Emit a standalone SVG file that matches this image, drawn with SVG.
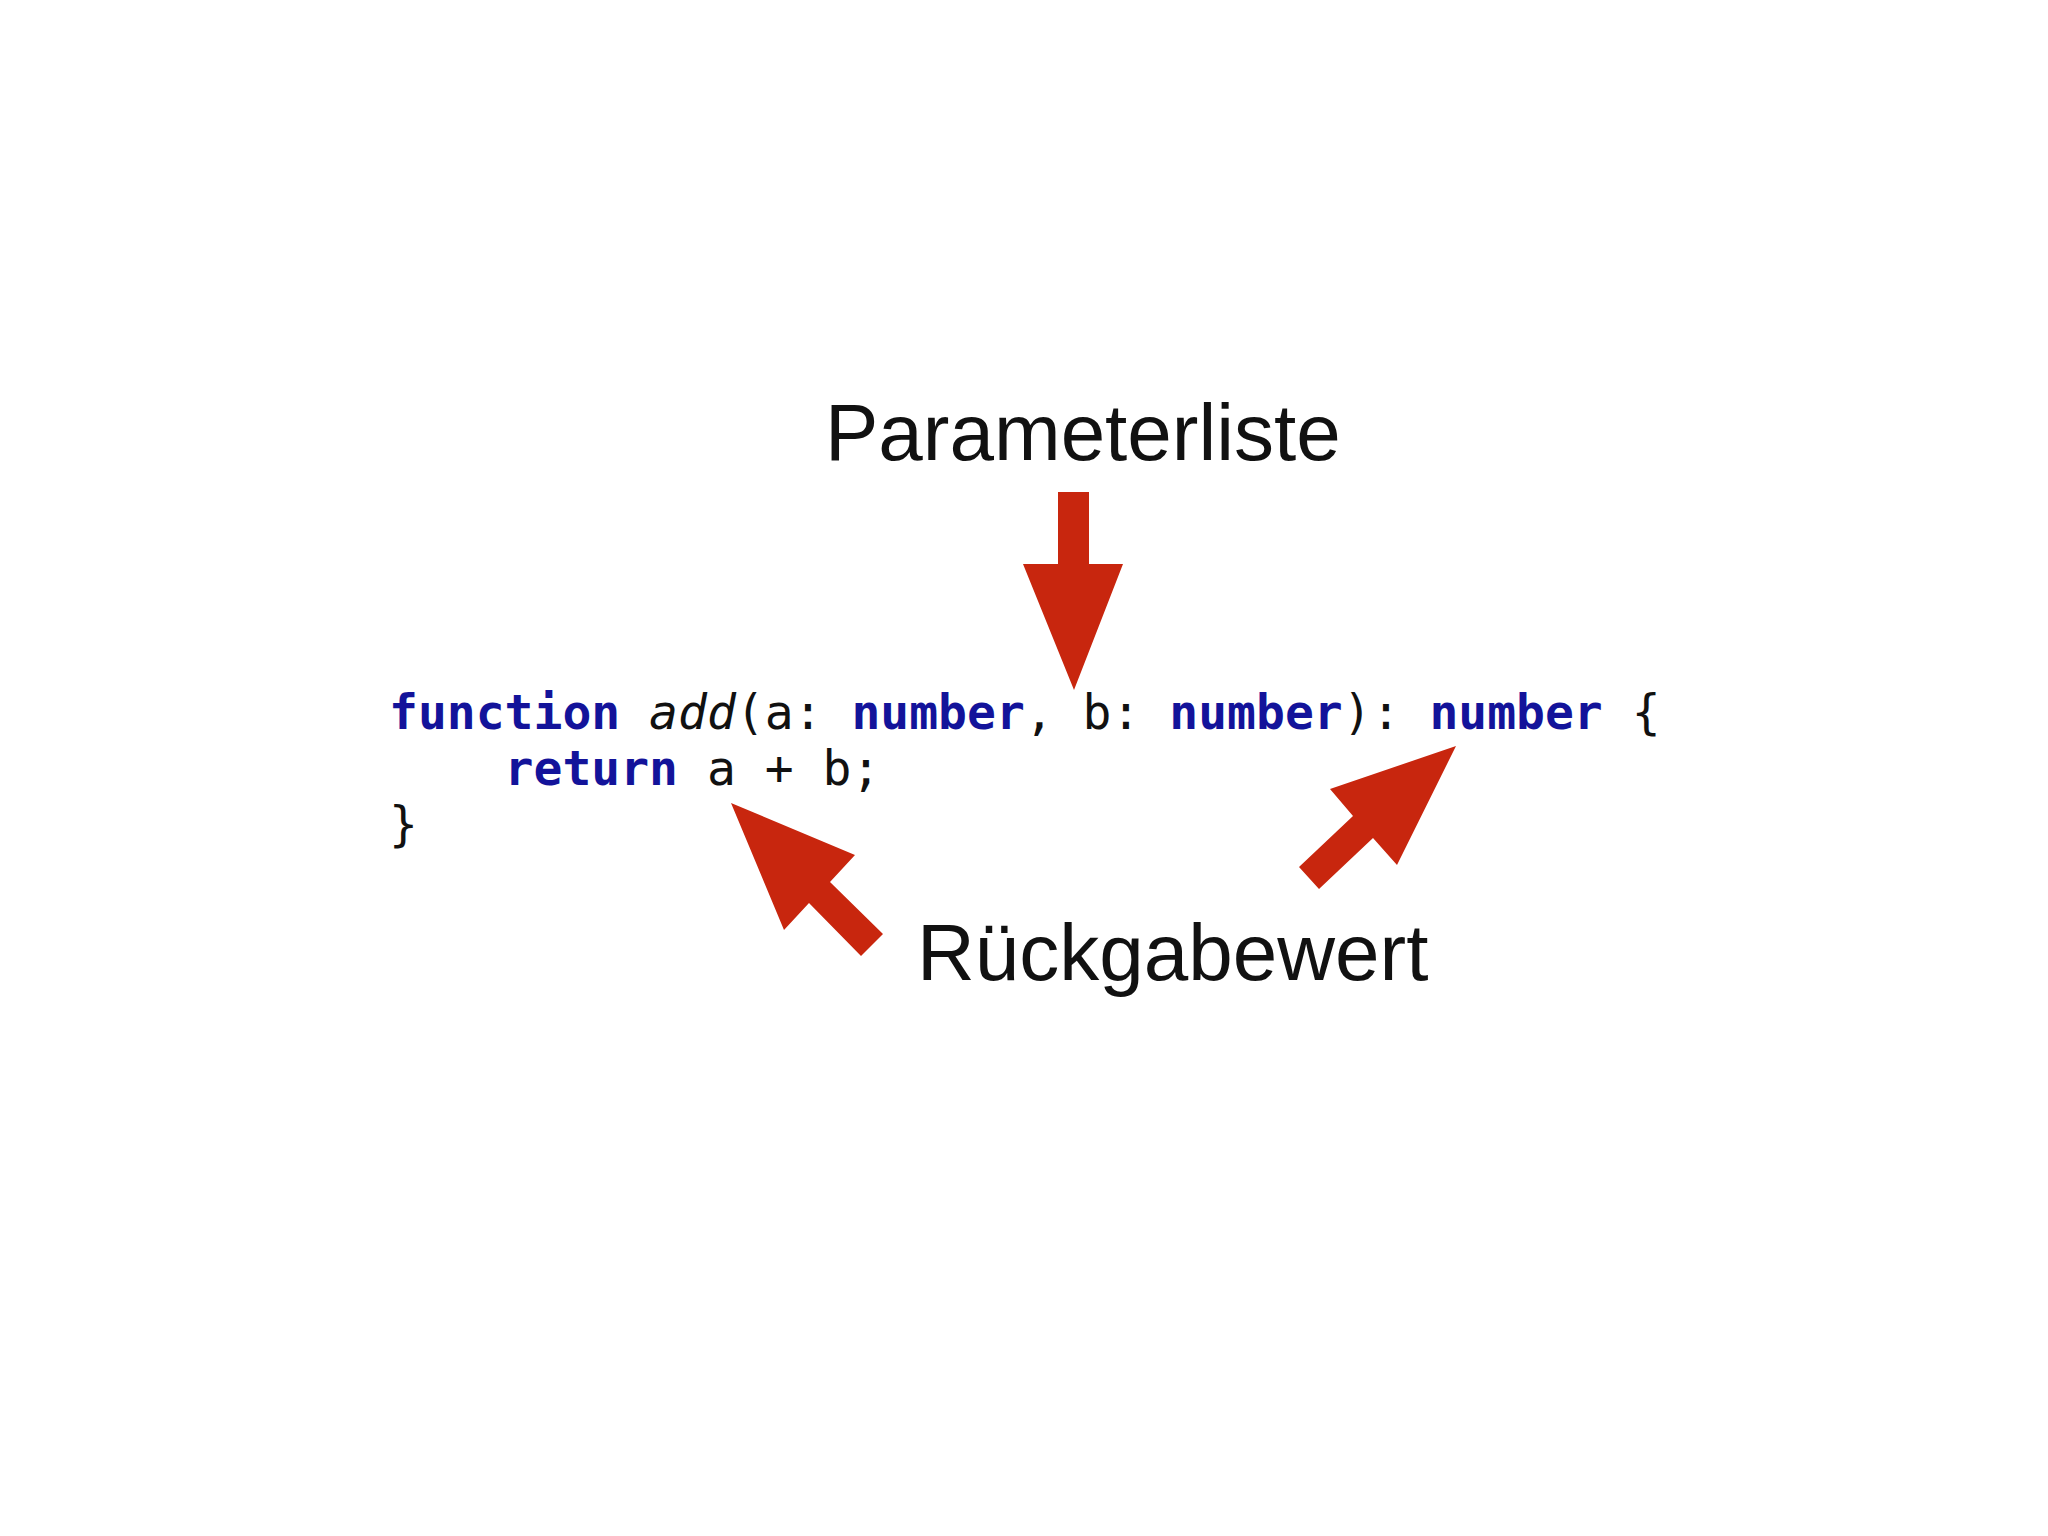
<svg xmlns="http://www.w3.org/2000/svg" width="2048" height="1536" viewBox="0 0 2048 1536">
<style>
.lbl{font-family:"Liberation Sans",Arial,sans-serif;font-size:80px;fill:#111;font-weight:300}
.code{font-family:"DejaVu Sans Mono",monospace;font-size:48px;fill:#111}
.kw{fill:#13139a;font-weight:bold}
.arr{fill:#c8260e}
</style>
<rect width="2048" height="1536" fill="#fff"/>
<g id="label-parameterliste"><text class="lbl" x="825" y="460">Parameterliste</text></g>
<g id="label-rueckgabewert"><text class="lbl" x="917" y="980">Rückgabewert</text></g>
<g id="code">
<text class="code" x="389" y="729" xml:space="preserve"><tspan class="kw">function</tspan> <tspan font-style="italic">add</tspan>(a: <tspan class="kw">number</tspan>, b: <tspan class="kw">number</tspan>): <tspan class="kw">number</tspan> {</text>
<text class="code" x="389" y="785" xml:space="preserve">    <tspan class="kw">return</tspan> a + b;</text>
<text class="code" x="389" y="841">}</text>
</g>
<g id="connectors">
<polygon class="arr" points="1058,492 1089,492 1089,564 1123,564 1074,690 1023,564 1058,564"/>
<polygon class="arr" points="731,803 855,855 830,882 883,934 861,956 809,903 784,930"/>
<polygon class="arr" points="1456,746 1397,865 1373,838 1319,889 1299,867 1353,816 1330,789"/>
</g>
</svg>
